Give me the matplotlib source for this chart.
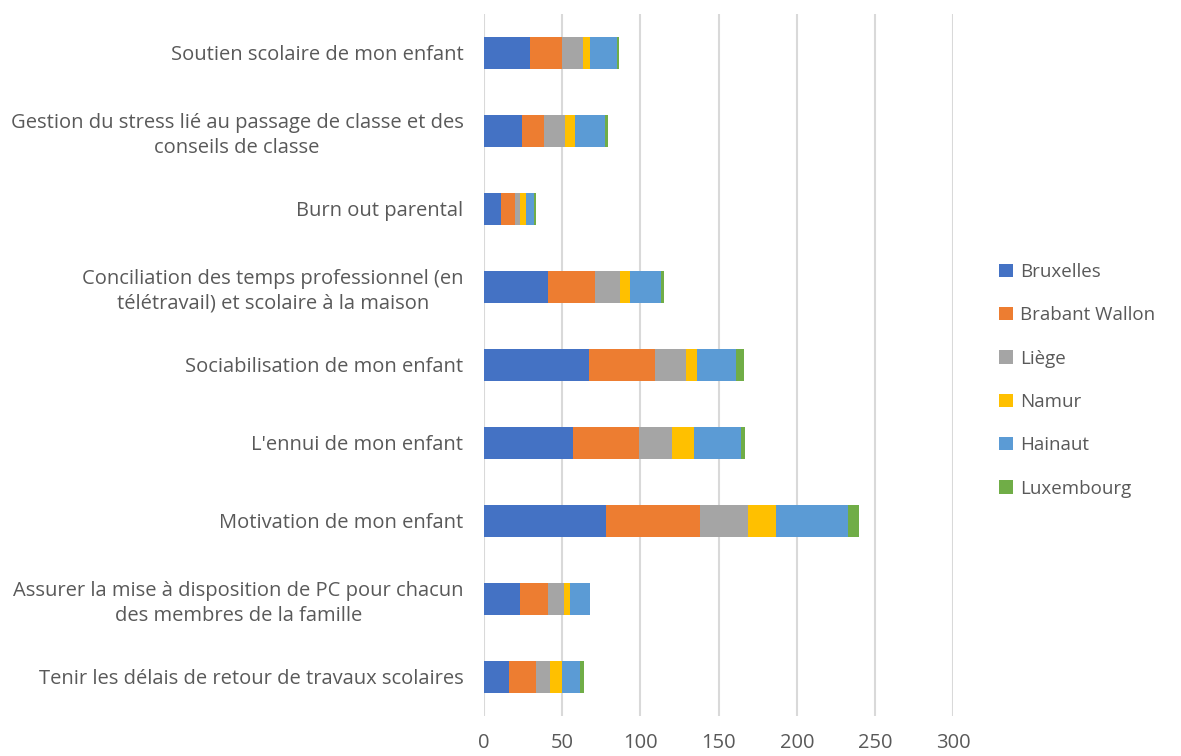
import matplotlib.pyplot as plt
import numpy as np

plt.rcParams['font.family'] = ['Open Sans', 'DejaVu Sans']

# catégories, de haut en bas
categories = [
    "Soutien scolaire de mon enfant",
    "Gestion du stress lié au passage de classe et des\nconseils de classe",
    "Burn out parental",
    "Conciliation des temps professionnel (en\ntélétravail) et scolaire à la maison",
    "Sociabilisation de mon enfant",
    "L'ennui de mon enfant",
    "Motivation de mon enfant",
    "Assurer la mise à disposition de PC pour chacun\ndes membres de la famille",
    "Tenir les délais de retour de travaux scolaires",
]

bruxelles      = [29, 24, 11, 41, 67, 57, 78, 23, 16]
brabant_wallon = [21, 14,  9, 30, 42, 42, 60, 18, 17]
liege          = [13, 14,  3, 16, 20, 21, 31, 10,  9]
namur          = [ 5,  6,  4,  6,  7, 14, 18,  4,  8]
hainaut        = [17, 19,  5, 20, 25, 30, 46, 13, 11]
luxembourg     = [ 1,  2,  1,  2,  5,  3,  7,  0,  3]

series = [
    ("Bruxelles", bruxelles, "#4472C4"),
    ("Brabant Wallon", brabant_wallon, "#ED7D31"),
    ("Liège", liege, "#A5A5A5"),
    ("Namur", namur, "#FFC000"),
    ("Hainaut", hainaut, "#5B9BD5"),
    ("Luxembourg", luxembourg, "#70AD47"),
]

fig = plt.figure(figsize=(11.81, 7.56), dpi=100)
ax = fig.add_axes([0.410, 0.053, 0.397, 0.929])

y = np.arange(len(categories))
left = np.zeros(len(categories))
for name, vals, col in series:
    ax.barh(y, vals, left=left, height=0.41, color=col, label=name, zorder=3)
    left += np.array(vals)

ax.set_xlim(0, 300)
ax.set_ylim(len(categories) - 0.5, -0.5)
ax.set_xticks(np.arange(0, 301, 50))
ax.set_yticks(y)
ax.set_yticklabels(categories)
for lab in ax.get_yticklabels():
    lab.set_multialignment('center')
    lab.set_linespacing(1.3)

ax.grid(axis='x', color='#D9D9D9', linewidth=1.5, zorder=0)
for s in ax.spines.values():
    s.set_visible(False)
ax.tick_params(axis='both', length=0, colors='#595959', labelsize=14.5)
ax.tick_params(axis='y', pad=15)
ax.tick_params(axis='x', pad=12)

ax.legend(loc='center left', bbox_to_anchor=(0.832, 0.497), bbox_transform=fig.transFigure,
          frameon=False, fontsize=13.5, labelcolor='#595959',
          handlelength=0.7, handleheight=0.7, labelspacing=1.35, handletextpad=0.4)

fig.savefig("out.png", dpi=100)
